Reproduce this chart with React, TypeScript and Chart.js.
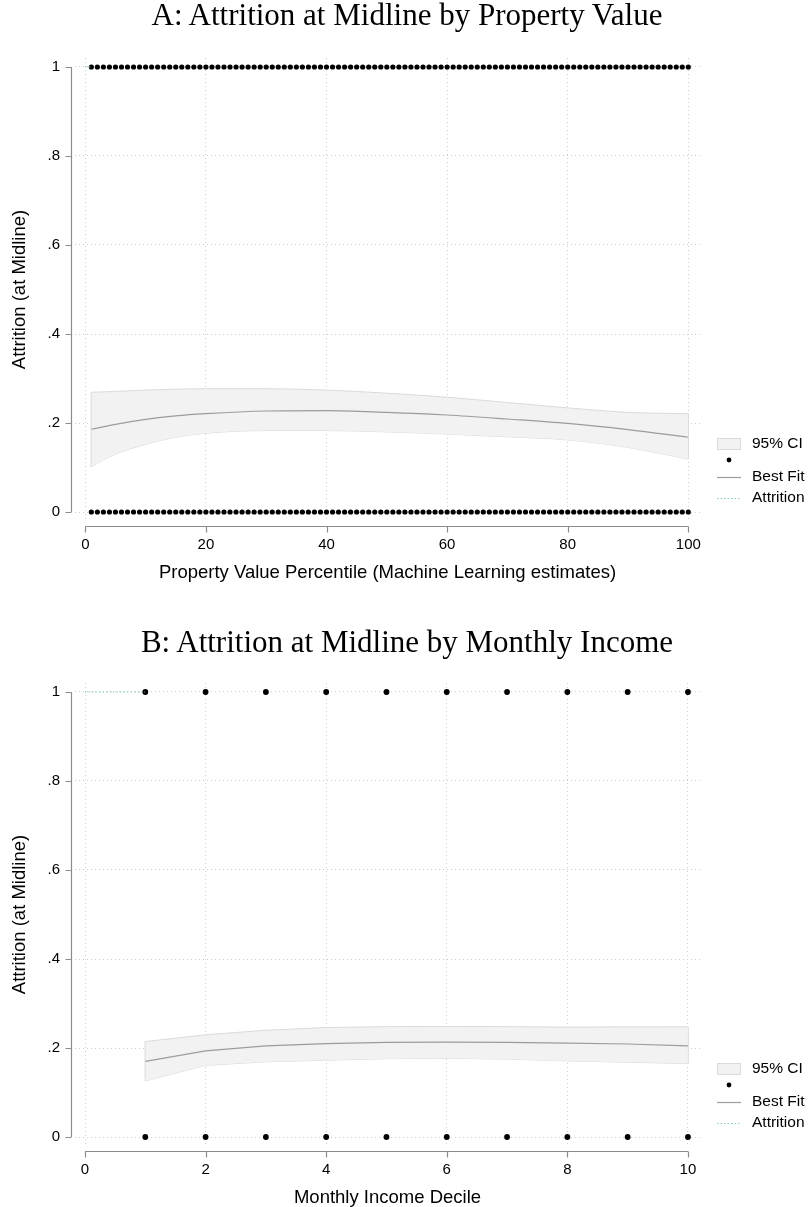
import React, { useEffect, useRef } from "react";
import { Chart, registerables } from "chart.js";

Chart.register(...registerables);

// ---------- Panel A: property value percentile ----------
const PCTL_OBS = [
  1, 2, 3, 4, 5, 6, 7, 8, 9, 10, 11, 12, 13, 14, 15, 16, 17, 18, 19, 20,
  21, 22, 23, 24, 25, 26, 27, 28, 29, 30, 31, 32, 33, 34, 35, 36, 37, 38, 39, 40,
  41, 42, 43, 44, 45, 46, 47, 48, 49, 50, 51, 52, 53, 54, 55, 56, 57, 58, 59, 60,
  61, 62, 63, 64, 65, 66, 67, 68, 69, 70, 71, 72, 73, 74, 75, 76, 77, 78, 79, 80,
  81, 82, 83, 84, 85, 86, 87, 88, 89, 90, 91, 92, 93, 94, 95, 96, 97, 98, 99, 100,
];
const PCTL_TICKS = [0, 20, 40, 60, 80, 100];
const PCTL_FIT_X = [1, 5, 10, 15, 20, 30, 40, 50, 60, 70, 80, 90, 100];
const PCTL_FIT = [0.186, 0.197, 0.208, 0.216, 0.221, 0.227, 0.228, 0.224, 0.218, 0.209, 0.199, 0.185, 0.168];
const PCTL_CI_HI = [0.269, 0.271, 0.274, 0.276, 0.277, 0.277, 0.274, 0.267, 0.258, 0.246, 0.234, 0.224, 0.221];
const PCTL_CI_LO = [0.102, 0.130, 0.152, 0.168, 0.177, 0.183, 0.183, 0.180, 0.175, 0.169, 0.162, 0.145, 0.119];

// ---------- Panel B: monthly income decile ----------
const DECILE_OBS = [1, 2, 3, 4, 5, 6, 7, 8, 9, 10];
const DECILE_TICKS = [0, 2, 4, 6, 8, 10];
const DECILE_FIT = [0.170, 0.1935, 0.205, 0.210, 0.2125, 0.213, 0.2125, 0.211, 0.209, 0.205];
const DECILE_CI_HI = [0.2145, 0.2297, 0.240, 0.246, 0.248, 0.2485, 0.248, 0.247, 0.2475, 0.2477];
const DECILE_CI_LO = [0.126, 0.161, 0.169, 0.1725, 0.176, 0.177, 0.175, 0.171, 0.168, 0.165];

// ---------- shared ----------
const OUTCOMES = [0, 1];
const Y_TICKS = [0, 0.2, 0.4, 0.6, 0.8, 1];
const Y_TICK_LABELS = ["0", ".2", ".4", ".6", ".8", "1"];
const ATTRITION_X = [0, 1];
const ATTRITION_Y = [1, 1];
const LEGEND_LABELS = ["95% CI", "", "Best Fit", "Attrition"];
const Y_TITLE = "Attrition (at Midline)";

const SANS = '"Liberation Sans", Arial, Helvetica, sans-serif';
const SERIF = '"Liberation Serif", "Times New Roman", serif';
const BAND_FILL = "#f2f2f2";
const BAND_EDGE = "#dadada";
const FIT_COLOR = "#9c9c9c";
const GRID_COLOR = "#cdcdcd";
const AXIS_COLOR = "#8c8c8c";
const TEAL = "#82ccbc";

type PanelSpec = {
  title: string;
  xTitle: string;
  obs: number[];
  xTicks: number[];
  fitX: number[];
  fit: number[];
  hi: number[];
  lo: number[];
  smooth: boolean;
  xMin: number;
  xMax: number;
  titleTop: number;
  dotRadius: number;
};

const PANELS: PanelSpec[] = [
  {
    title: "A: Attrition at Midline by Property Value",
    xTitle: "Property Value Percentile (Machine Learning estimates)",
    obs: PCTL_OBS,
    xTicks: PCTL_TICKS,
    fitX: PCTL_FIT_X,
    fit: PCTL_FIT,
    hi: PCTL_CI_HI,
    lo: PCTL_CI_LO,
    smooth: true,
    xMin: -1.71,
    xMax: 101.94,
    titleTop: -1,
    dotRadius: 2.6,
  },
  {
    title: "B: Attrition at Midline by Monthly Income",
    xTitle: "Monthly Income Decile",
    obs: DECILE_OBS,
    xTicks: DECILE_TICKS,
    fitX: DECILE_OBS,
    fit: DECILE_FIT,
    hi: DECILE_CI_HI,
    lo: DECILE_CI_LO,
    smooth: false,
    xMin: -0.166,
    xMax: 10.2,
    titleTop: 1,
    dotRadius: 2.9,
  },
];

const W = 809;
const PANEL_H = 626;

// Stata-style axes: offset from the plot region and spanning only the tick range.
const axesPlugin = {
  id: "offsetAxes",
  afterDraw(chart: any) {
    const { ctx, chartArea } = chart;
    const xs = chart.scales.x;
    const ys = chart.scales.y;
    const xt = xs.ticks.map((t: any) => t.value);
    const yt = ys.ticks.map((t: any) => t.value);
    const ax = Math.round(chartArea.left - 4) + 0.5;
    const ay = Math.round(chartArea.bottom + 5) + 0.5;
    ctx.save();
    ctx.strokeStyle = AXIS_COLOR;
    ctx.lineWidth = 1.2;
    ctx.beginPath();
    ctx.moveTo(ax, ys.getPixelForValue(yt[0]));
    ctx.lineTo(ax, ys.getPixelForValue(yt[yt.length - 1]));
    for (const v of yt) {
      const py = Math.round(ys.getPixelForValue(v)) + 0.5;
      ctx.moveTo(ax - 6, py);
      ctx.lineTo(ax, py);
    }
    ctx.moveTo(xs.getPixelForValue(xt[0]), ay);
    ctx.lineTo(xs.getPixelForValue(xt[xt.length - 1]), ay);
    for (const v of xt) {
      const px = Math.round(xs.getPixelForValue(v)) + 0.5;
      ctx.moveTo(px, ay);
      ctx.lineTo(px, ay + 6);
    }
    ctx.stroke();
    ctx.restore();
  },
};

// Key at the right of the plot region.
const keyPlugin = {
  id: "sideKey",
  afterDraw(chart: any) {
    const { ctx, chartArea } = chart;
    const x0 = chartArea.right + 17;
    const x1 = x0 + 24;
    const tx = chartArea.right + 52;
    const rows = [77, 61, 44, 23].map((d) => chartArea.bottom - d);
    ctx.save();
    // band swatch
    ctx.fillStyle = BAND_FILL;
    ctx.strokeStyle = BAND_EDGE;
    ctx.lineWidth = 1;
    ctx.fillRect(x0, rows[0] - 6, x1 - x0, 12);
    ctx.strokeRect(x0 + 0.5, rows[0] - 5.5, x1 - x0 - 1, 11);
    // observation marker
    ctx.fillStyle = "#000";
    ctx.beginPath();
    ctx.arc((x0 + x1) / 2, rows[1], 2.4, 0, Math.PI * 2);
    ctx.fill();
    // fitted line
    ctx.strokeStyle = FIT_COLOR;
    ctx.lineWidth = 1.2;
    ctx.beginPath();
    ctx.moveTo(x0, rows[2] + 0.5);
    ctx.lineTo(x1, rows[2] + 0.5);
    ctx.stroke();
    // attrition line
    ctx.strokeStyle = TEAL;
    ctx.setLineDash([1.5, 2]);
    ctx.beginPath();
    ctx.moveTo(x0, rows[3] + 0.5);
    ctx.lineTo(x1, rows[3] + 0.5);
    ctx.stroke();
    ctx.setLineDash([]);
    // labels
    ctx.fillStyle = "#000";
    ctx.font = `15.5px ${SANS}`;
    ctx.textAlign = "left";
    ctx.textBaseline = "middle";
    LEGEND_LABELS.forEach((t, i) => {
      if (t) ctx.fillText(t, tx, rows[i]);
    });
    ctx.restore();
  },
};

function pts(xs: number[], ys: number[]) {
  return xs.map((x, i) => ({ x, y: ys[i] }));
}

function buildChart(canvas: HTMLCanvasElement, p: PanelSpec) {
  const n = p.fitX.length;
  const line = {
    showLine: true,
    pointRadius: 0,
    pointHoverRadius: 0,
    fill: false,
    tension: 0,
    ...(p.smooth ? { cubicInterpolationMode: "monotone" } : {}),
  };
  const edge = { showLine: true, pointRadius: 0, fill: false, borderColor: BAND_EDGE, borderWidth: 1, order: 4 };
  const dots = (y: number) => ({
    showLine: false,
    data: p.obs.map((x) => ({ x, y })),
    pointRadius: p.dotRadius,
    pointHoverRadius: p.dotRadius,
    pointBackgroundColor: "#000",
    pointBorderWidth: 0,
    borderColor: "#000",
    order: 1,
  });

  return new Chart(canvas, {
    type: "line",
    data: {
      datasets: [
        {
          ...line,
          label: "upper",
          data: pts(p.fitX, p.hi),
          borderColor: BAND_EDGE,
          borderWidth: 1,
          backgroundColor: BAND_FILL,
          fill: "+1",
          order: 4,
        },
        { ...line, label: "lower", data: pts(p.fitX, p.lo), borderColor: BAND_EDGE, borderWidth: 1, order: 4 },
        { ...edge, data: [{ x: p.fitX[0], y: p.hi[0] }, { x: p.fitX[0], y: p.lo[0] }] },
        { ...edge, data: [{ x: p.fitX[n - 1], y: p.hi[n - 1] }, { x: p.fitX[n - 1], y: p.lo[n - 1] }] },
        { ...line, label: "Best Fit", data: pts(p.fitX, p.fit), borderColor: FIT_COLOR, borderWidth: 1.2, order: 2 },
        ...OUTCOMES.map((y) => dots(y)),
        {
          showLine: true,
          label: "Attrition",
          data: pts(ATTRITION_X, ATTRITION_Y),
          pointRadius: 0,
          borderColor: TEAL,
          borderWidth: 1.2,
          borderDash: [1.5, 2],
          fill: false,
          order: 0,
        },
      ] as any,
    },
    options: {
      responsive: false,
      animation: false,
      devicePixelRatio: 1,
      events: [],
      layout: { padding: { top: 58, right: 109, bottom: 0, left: 0 } },
      plugins: {
        legend: { display: false },
        tooltip: { enabled: false },
        title: { display: false },
      },
      scales: {
        x: {
          type: "linear",
          min: p.xMin,
          max: p.xMax,
          afterBuildTicks: (s: any) => {
            s.ticks = p.xTicks.map((v) => ({ value: v }));
          },
          afterFit: (s: any) => {
            s.height = 105;
          },
          grid: { color: GRID_COLOR, lineWidth: 1, drawTicks: false },
          border: { display: false, dash: [1, 3] },
          ticks: {
            font: { family: SANS, size: 15 },
            color: "#000",
            padding: 15,
            autoSkip: false,
            maxRotation: 0,
            callback: (v: any) => String(v),
          },
          title: {
            display: true,
            text: p.xTitle,
            font: { family: SANS, size: 18.5 },
            color: "#000",
            padding: { top: 0, bottom: 42 },
          },
        },
        y: {
          type: "linear",
          min: -0.0202,
          max: 1.0202,
          afterBuildTicks: (s: any) => {
            s.ticks = Y_TICKS.map((v) => ({ value: v }));
          },
          afterFit: (s: any) => {
            s.width = 75;
          },
          grid: { color: GRID_COLOR, lineWidth: 1, drawTicks: false },
          border: { display: false, dash: [1, 3] },
          ticks: {
            font: { family: SANS, size: 15 },
            color: "#000",
            padding: 15,
            autoSkip: false,
            callback: (v: any) => Y_TICK_LABELS[Y_TICKS.indexOf(v)],
          },
          title: {
            display: true,
            text: Y_TITLE,
            font: { family: SANS, size: 18.5 },
            color: "#000",
            padding: { top: 9, bottom: 0 },
          },
        },
      },
    } as any,
    plugins: [axesPlugin, keyPlugin],
  });
}

function Panel({ spec, top }: { spec: PanelSpec; top: number }) {
  const ref = useRef<HTMLCanvasElement>(null);
  useEffect(() => {
    if (!ref.current) return;
    const chart = buildChart(ref.current, spec);
    return () => chart.destroy();
  }, [spec]);
  return (
    <div style={{ position: "absolute", left: 0, top, width: W, height: PANEL_H }}>
      <canvas
        ref={ref}
        width={W}
        height={PANEL_H}
        style={{ position: "absolute", left: 0, top: 0, width: W, height: PANEL_H }}
      />
      <div
        style={{
          position: "absolute",
          left: 0,
          top: spec.titleTop,
          width: 814,
          textAlign: "center",
          fontFamily: SERIF,
          fontSize: 31,
          lineHeight: "31px",
          color: "#000",
          whiteSpace: "nowrap",
        }}
      >
        {spec.title}
      </div>
    </div>
  );
}

export default function App() {
  return (
    <div
      style={{
        position: "absolute",
        left: 0,
        top: 0,
        width: W,
        height: 1207,
        overflow: "hidden",
        background: "#fff",
      }}
    >
      <Panel spec={PANELS[0]} top={0} />
      <Panel spec={PANELS[1]} top={625} />
    </div>
  );
}
